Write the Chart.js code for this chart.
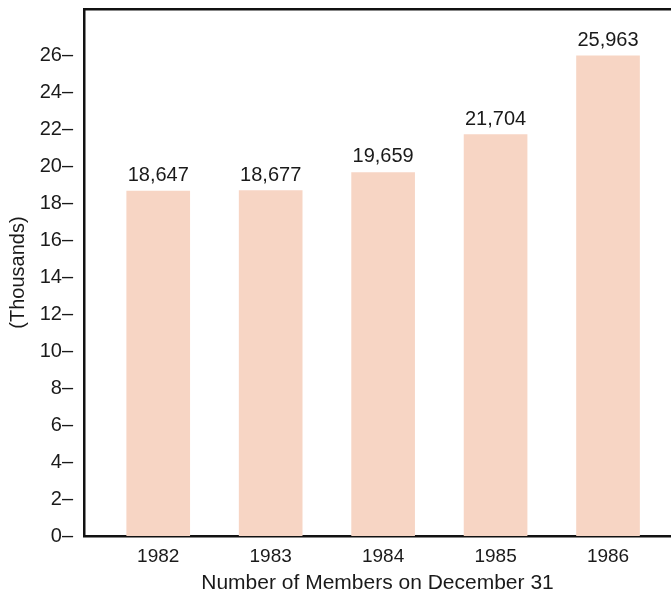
<!DOCTYPE html>
<html>
<head>
<meta charset="utf-8">
<script src="https://cdn.jsdelivr.net/npm/chart.js@4.4.0/dist/chart.umd.min.js"></script>
<style>
  html, body { margin: 0; padding: 0; background: #fff; }
  #wrap { width: 671px; height: 596px; position: relative; }
</style>
</head>
<body>
<div id="wrap"><canvas id="chart"></canvas></div>
<script>
// members at year end
const years = ['1982', '1983', '1984', '1985', '1986'];
const members = [18647, 18677, 19659, 21704, 25963];
const yTicks = [0, 2000, 4000, 6000, 8000, 10000, 12000, 14000, 16000, 18000, 20000, 22000, 24000, 26000];

const barColor = '#f7d5c4';
const font = 'Liberation Sans, Arial, Helvetica, sans-serif';

// numbers above the bars
const valueLabels = {
  id: 'valueLabels',
  afterDatasetsDraw(chart) {
    const ctx = chart.ctx;
    const meta = chart.getDatasetMeta(0);
    ctx.save();
    ctx.fillStyle = '#1a1a1a';
    ctx.font = '20px ' + font;
    ctx.textAlign = 'center';
    ctx.textBaseline = 'alphabetic';
    meta.data.forEach((bar, i) => {
      ctx.fillText(members[i].toLocaleString('en-US'), bar.x, bar.y - 10);
    });
    ctx.restore();
  }
};

new Chart(document.getElementById('chart'), {
  type: 'bar',
  data: {
    datasets: [{
      data: members.map((v, i) => ({ x: i, y: v })),
      backgroundColor: barColor,
      borderWidth: 0,
      barThickness: 63
    }]
  },
  options: {
    responsive: true,
    maintainAspectRatio: false,
    animation: false,
    layout: { padding: { top: 9, right: 0, left: 0, bottom: 0 } },
    plugins: {
      legend: { display: false },
      tooltip: { enabled: false }
    },
    scales: {
      x: {
        type: 'linear',
        offset: false,
        min: -0.66,
        max: 4.56,
        grid: { display: false },
        border: { color: '#111', width: 2.5 },
        afterBuildTicks: (axis) => { axis.ticks = years.map((_, i) => ({ value: i })); },
        afterFit: (scale) => { scale.height = 60; },
        ticks: {
          color: '#1a1a1a',
          font: { family: font, size: 19 },
          padding: 1,
          maxRotation: 0,
          callback: (v) => years[v]
        },
        title: {
          display: true,
          text: 'Number of Members on December 31',
          color: '#1a1a1a',
          font: { family: font, size: 21 },
          padding: { top: 2, bottom: 0 }
        }
      },
      xTop: {
        type: 'linear',
        position: 'top',
        display: true,
        offset: false,
        grid: { display: false },
        border: { color: '#111', width: 2.5 },
        ticks: { display: false },
        afterFit: (scale) => { scale.height = 0; }
      },
      y: {
        min: 0,
        max: 28500,
        grid: { display: false },
        border: { color: '#111', width: 2.5 },
        afterBuildTicks: (axis) => { axis.ticks = yTicks.map(v => ({ value: v })); },
        afterFit: (scale) => { scale.width = 84; scale.paddingTop = 0; },
        ticks: {
          color: '#1a1a1a',
          font: { family: font, size: 20 },
          padding: 3,
          callback: (v) => (v / 1000) + '\u2013'
        },
        title: {
          display: true,
          text: '(Thousands)',
          color: '#1a1a1a',
          font: { family: font, size: 20 },
          padding: { top: 6, bottom: 0 }
        }
      }
    }
  },
  plugins: [valueLabels]
});
</script>
</body>
</html>
